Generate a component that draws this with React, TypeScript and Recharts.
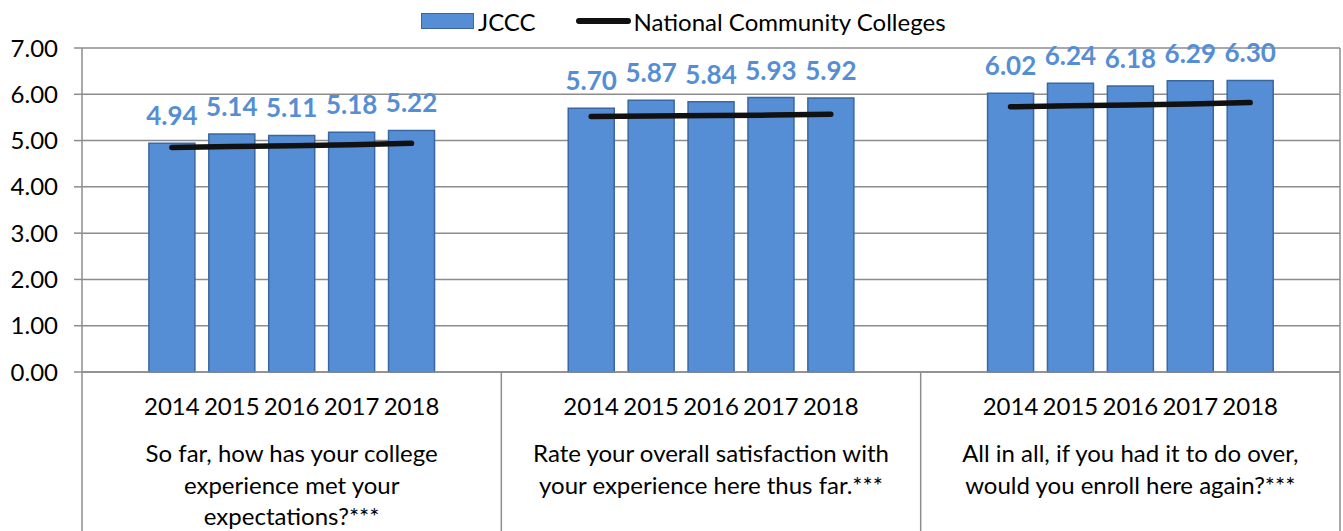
import {
    ComposedChart,
    Bar,
    Line,
    XAxis,
    YAxis,
    CartesianGrid,
    Legend,
    LabelList
} from 'recharts';

const years = ['2014', '2015', '2016', '2017', '2018'];
const questions = [
    ['So far, how has your college', 'experience met your', 'expectations?***'],
    ['Rate your overall satisfaction with', 'your experience here thus far.***'],
    ['All in all, if you had it to do over,', 'would you enroll here again?***']
];
const jccc = [
    [4.94, 5.14, 5.11, 5.18, 5.22],
    [5.70, 5.87, 5.84, 5.93, 5.92],
    [6.02, 6.24, 6.18, 6.29, 6.30]
];
const national = [
    [4.85, 4.87, 4.89, 4.91, 4.94],
    [5.52, 5.53, 5.54, 5.55, 5.57],
    [5.73, 5.75, 5.77, 5.79, 5.82]
];
const yTicks = [0, 1, 2, 3, 4, 5, 6, 7];

const BAR_FILL = '#558ED5';
const BAR_STROKE = '#3A679F';
const GRID = '#8C8C8C';
const FONT = 'Lato, "DejaVu Sans", sans-serif';

const CHART_W = 1343;
const CHART_H = 531;
const MARGIN = { top: 8, right: 3, bottom: 0, left: 0 };
const Y_AXIS_W = 82;
const YEAR_AXIS_H = 50;
const Q_AXIS_H = 109;
const BAND = (CHART_W - MARGIN.left - MARGIN.right - Y_AXIS_W) / (questions.length * 7);

// each question gets 7 slots: an empty one, five years, another empty one
type Row = { slot: string; group: number; pos: number; year: string; jccc: number | null; national: number | null };
const rows: Row[] = [];
questions.forEach((_, g) => {
    for (let p = 0; p < 7; p++) {
        const i = p - 1;
        const isYear = i >= 0 && i < years.length;
        rows.push({
            slot: `g${g}-${p}`,
            group: g,
            pos: p,
            year: isYear ? years[i] : '',
            jccc: isYear ? jccc[g][i] : null,
            national: isYear ? national[g][i] : null
        });
    }
});
const rowBySlot: Record<string, Row> = {};
rows.forEach((r) => { rowBySlot[r.slot] = r; });

const YearTick = (props: any) => {
    const { x, y, payload } = props;
    const row = rowBySlot[payload.value];
    if (!row || !row.year) return null;
    return (
        <text x={x} y={y + 43} textAnchor="middle" fontSize={24} fontFamily={FONT} fill="#000">
            {row.year}
        </text>
    );
};

const QuestionTick = (props: any) => {
    const { x, y, payload } = props;
    const row = rowBySlot[payload.value];
    if (!row) return null;
    const top = y - YEAR_AXIS_H;
    const bottom = y + Q_AXIS_H;
    return (
        <g>
            {row.pos === 0 && (
                <line x1={x - BAND / 2} x2={x - BAND / 2} y1={top} y2={bottom} stroke={GRID} strokeWidth={1.5} />
            )}
            {row.pos === 6 && row.group === questions.length - 1 && (
                <line x1={x + BAND / 2} x2={x + BAND / 2} y1={top} y2={bottom} stroke={GRID} strokeWidth={1.5} />
            )}
            {row.pos === 3 && (
                <text textAnchor="middle" fontSize={24} fontFamily={FONT} fill="#000">
                    {questions[row.group].map((line, k) => (
                        <tspan key={k} x={x} y={y + 40 + k * 31.5}>{line}</tspan>
                    ))}
                </text>
            )}
        </g>
    );
};

const LegendContent = () => (
    <div style={{ height: 40, display: 'flex', alignItems: 'center', fontFamily: FONT, fontSize: 24, color: '#000' }}>
        <span style={{ width: 51, height: 14, background: BAR_FILL, border: `1.5px solid ${BAR_STROKE}`, marginRight: 4 }} />
        <span style={{ marginRight: 40 }}>JCCC</span>
        <span style={{ width: 55, height: 6, background: '#111', borderRadius: 3, marginRight: 3 }} />
        <span>National Community Colleges</span>
    </div>
);

export default function App() {
    return (
        <div style={{ position: 'absolute', left: 0, top: 0, background: '#fff' }}>
            <ComposedChart width={CHART_W} height={CHART_H} data={rows} margin={MARGIN}>
                <Legend
                    verticalAlign="top"
                    content={<LegendContent />}
                    wrapperStyle={{ left: 421, top: 1, width: 'auto' }}
                />
                <CartesianGrid
                    stroke={GRID}
                    strokeWidth={1.5}
                    verticalCoordinatesGenerator={({ offset }: any) => [offset.left + offset.width]}
                />
                <XAxis
                    dataKey="slot"
                    xAxisId={0}
                    height={YEAR_AXIS_H}
                    interval={0}
                    tickSize={0}
                    tickMargin={0}
                    tickLine={false}
                    axisLine={{ stroke: GRID, strokeWidth: 1.5 }}
                    tick={<YearTick />}
                />
                <XAxis
                    dataKey="slot"
                    xAxisId="q"
                    height={Q_AXIS_H}
                    interval={0}
                    tickSize={0}
                    tickMargin={0}
                    tickLine={false}
                    axisLine={false}
                    tick={<QuestionTick />}
                />
                <YAxis
                    width={Y_AXIS_W}
                    domain={[0, 7]}
                    ticks={yTicks}
                    interval={0}
                    tickFormatter={(v: number) => v.toFixed(2)}
                    tickSize={8}
                    tickMargin={16}
                    axisLine={{ stroke: GRID, strokeWidth: 1.5 }}
                    tickLine={{ stroke: GRID, strokeWidth: 1.5 }}
                    tick={{ fontSize: 24, fontFamily: FONT, fill: '#000' }}
                />
                <Bar
                    dataKey="jccc"
                    name="JCCC"
                    xAxisId={0}
                    barSize={46}
                    fill={BAR_FILL}
                    stroke={BAR_STROKE}
                    strokeWidth={1.5}
                    isAnimationActive={false}
                >
                    <LabelList
                        dataKey="jccc"
                        position="top"
                        offset={18}
                        formatter={(v: any) => (v == null ? '' : Number(v).toFixed(2))}
                        style={{ fontSize: 26, fontWeight: 700, fontFamily: FONT, fill: BAR_FILL }}
                    />
                </Bar>
                <Line
                    dataKey="national"
                    name="National Community Colleges"
                    xAxisId={0}
                    type="linear"
                    stroke="#111"
                    strokeWidth={5.5}
                    strokeLinecap="round"
                    dot={false}
                    activeDot={false}
                    connectNulls={false}
                    isAnimationActive={false}
                />
            </ComposedChart>
        </div>
    );
}
